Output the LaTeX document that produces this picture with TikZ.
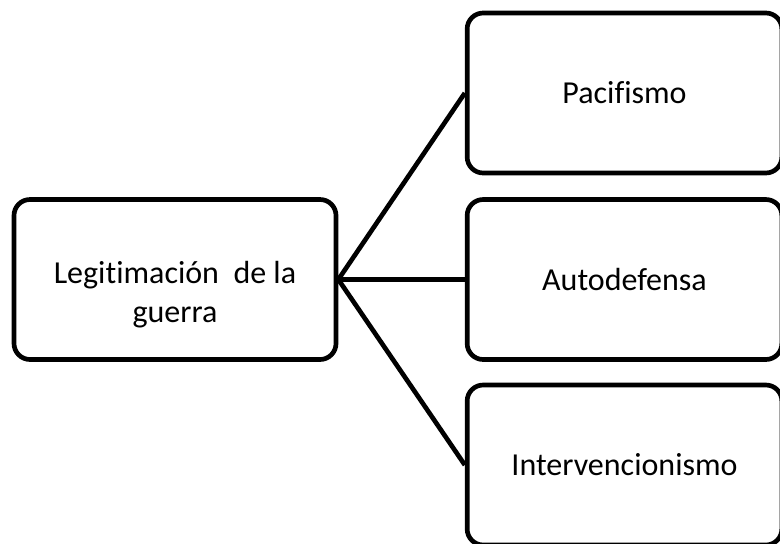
\documentclass[tikz,border=0pt]{standalone}
\usepackage{fontspec}
\setmainfont{Carlito}[Ligatures=NoCommon]
\begin{document}
\begin{tikzpicture}[x=0.75pt,y=-0.75pt,
  txt/.style={font=\fontsize{24}{29}\selectfont, align=center},
  box/.style={draw=black, line width=3.5pt, rounded corners=12pt, fill=white,
    minimum width=236pt, minimum height=120pt, inner sep=0pt, txt},
  leftbox/.style={box, minimum width=241.5pt},
  conn/.style={draw=black, line width=3.5pt}]
\useasboundingbox (0,0) rectangle (780,543);
\clip (0,0) rectangle (780,543);
\node[leftbox, label={[txt, yshift=-11.5pt]center:Legitimación\ \ de la\\guerra}] (leg) at (175,279.5) {};
\node[box] (pac) at (624.5,93) {Pacifismo};
\node[box] (aut) at (624.5,279.5) {Autodefensa};
\node[box] (int) at (624.5,465) {Intervencionismo};
\draw[conn] (leg.east) -- (pac.west);
\draw[conn] (leg.east) -- (aut.west);
\draw[conn] (leg.east) -- (int.west);
\end{tikzpicture}
\end{document}
